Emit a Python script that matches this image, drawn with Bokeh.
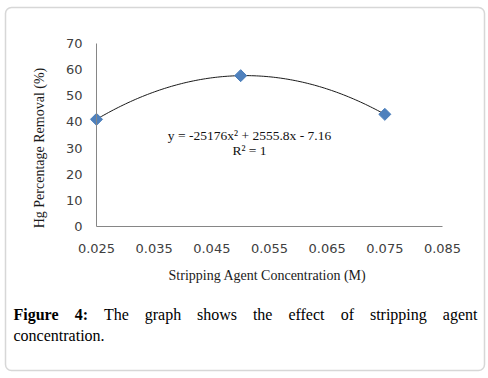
import numpy as np
from math import pi
from bokeh.plotting import figure
from bokeh.models import Range1d, Label, BoxAnnotation
from bokeh.embed import file_html
from bokeh.resources import INLINE

# ---- data ----
concentration = [0.025, 0.05, 0.075]
removal = [41.0, 57.7, 42.9]
x_ticks = [0.025, 0.035, 0.045, 0.055, 0.065, 0.075, 0.085]
x_tick_labels = ["0.025", "0.035", "0.045", "0.055", "0.065", "0.075", "0.085"]
y_ticks = [0, 10, 20, 30, 40, 50, 60, 70]
equation = "y = -25176x² + 2555.8x - 7.16"
r_squared = "R² = 1"
x_title = "Stripping Agent Concentration (M)"
y_title = "Hg Percentage Removal (%)"
caption_line1 = [("Figure", True), ("4:", True), ("The", False), ("graph", False),
                 ("shows", False), ("the", False), ("effect", False), ("of", False),
                 ("stripping", False), ("agent", False)]
caption_line2 = "concentration."

# ---- layout (plot area placed inside a canvas-wide frame) ----
W, H = 488, 378
AREA_L, AREA_R, AREA_T, AREA_B = 96, 442, 43, 226   # pixel box of the axes area
xa, xb = x_ticks[0], x_ticks[-1]
ya, yb = y_ticks[0], y_ticks[-1]
kx = (xb - xa) / (AREA_R - AREA_L)
ky = (yb - ya) / (AREA_B - AREA_T)
X_RANGE = Range1d(xa - AREA_L * kx, xb + (W - AREA_R) * kx)
Y_RANGE = Range1d(ya - (H - AREA_B) * ky, yb + AREA_T * ky)

TEXT_SHIFT = 5  # baseline correction

def sx(px):
    return px

def sy(py):
    return H - py

p = figure(width=W, height=H, output_backend="svg", toolbar_location=None,
           x_range=X_RANGE, y_range=Y_RANGE, min_border=0)
p.outline_line_color = None
p.grid.visible = False
p.background_fill_color = "white"
p.border_fill_color = "white"

AX = "#868686"
TICK_FONT = "DejaVu Sans"
SERIF = "Liberation Serif"

for ax in (p.xaxis, p.yaxis):
    ax.axis_line_color = AX
    ax.major_tick_line_color = None
    ax.minor_tick_line_color = None
    ax.major_tick_out = 0
    ax.major_tick_in = 0
    ax.major_label_text_font = TICK_FONT
    ax.major_label_text_font_size = "13px"
    ax.major_label_text_color = "#404040"

p.xaxis.ticker = x_ticks
p.xaxis.major_label_overrides = {t: l for t, l in zip(x_ticks, x_tick_labels)}
p.xaxis.bounds = (xa, xb)
p.xaxis.fixed_location = ya
p.xaxis.major_label_standoff = 17

p.yaxis.ticker = y_ticks
p.yaxis.bounds = (ya, yb)
p.yaxis.fixed_location = xa
p.yaxis.major_label_standoff = 14

# trendline (2nd order polynomial fit of the data)
coeffs = np.polyfit(concentration, removal, 2)
xs = np.linspace(min(concentration), max(concentration), 120)
p.line(xs, np.polyval(coeffs, xs), line_color="#1a1a1a", line_width=1)

p.scatter(concentration, removal, marker="square", angle=pi / 4, size=8.5,
          fill_color="#4F81BD", line_color="#4A7EBB", line_width=1)

def label(px, py, text, size, align="left", baseline="alphabetic", angle=0.0,
          bold=False, color="#111111", font=SERIF, shift=TEXT_SHIFT):
    p.add_layout(Label(x=sx(px), y=sy(py - shift), x_units="screen", y_units="screen",
                       text=text, text_align=align, text_baseline=baseline, angle=angle,
                       text_font=font, text_font_size=size,
                       text_font_style="bold" if bold else "normal", text_color=color))

label(249, 139.5, equation, "13.5px", align="center")
label(249, 155, r_squared, "13.5px", align="center")
label(267, 280, x_title, "14px", align="center", color="#1a1a1a")
label(39, 147.5, y_title, "14px", align="center", baseline="middle", angle=pi / 2,
      color="#1a1a1a", shift=0)

# caption (justified first line)
word_lefts = [13, 74.2, 103.4, 144.2, 196.5, 252.4, 287.9, 340.2, 369.4]
for (w, bold), left in zip(caption_line1[:-1], word_lefts):
    label(left, 318.5, w, "16px", bold=bold, color="black")
label(477, 318.5, caption_line1[-1][0], "16px", align="right", color="black")
label(13, 339.5, caption_line2, "16px", color="black")

# outer rounded border
p.add_layout(BoxAnnotation(left=sx(5), right=sx(484), top=sy(7), bottom=sy(370),
                           left_units="screen", right_units="screen",
                           top_units="screen", bottom_units="screen",
                           fill_color=None, line_color="#7a7a7a", line_width=1.5,
                           border_radius=6))

open("out.html", "w").write(file_html(p, INLINE))
